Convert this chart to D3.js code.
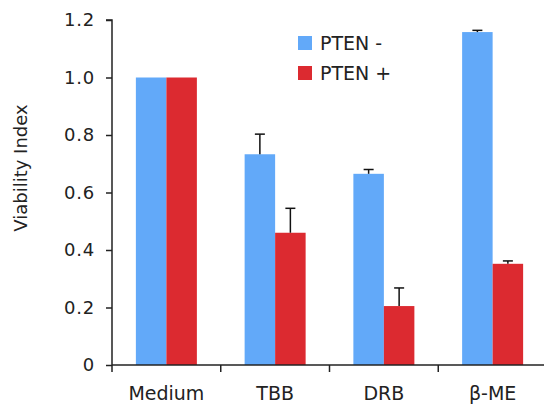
<!DOCTYPE html>
<html>
<head>
<meta charset="utf-8">
<script src="https://cdn.jsdelivr.net/npm/d3@7"></script>
<style>
  body { margin: 0; background: #fff; }
  text { font-family: "DejaVu Sans", Verdana, sans-serif; fill: #222; }
</style>
</head>
<body>
<svg id="chart" width="544" height="406"></svg>
<script>
const categories = ["Medium", "TBB", "DRB", "β-ME"];
const seriesNames = ["PTEN -", "PTEN +"];
const ptenMinus = [1.0, 0.733, 0.665, 1.158];
const ptenMinusErr = [0, 0.07, 0.015, 0.006];
const ptenPlus = [1.0, 0.46, 0.205, 0.352];
const ptenPlusErr = [0, 0.085, 0.063, 0.01];
const yTicks = [0, 0.2, 0.4, 0.6, 0.8, 1.0, 1.2];
const yTickLabels = ["0", "0.2", "0.4", "0.6", "0.8", "1.0", "1.2"];
const colors = ["#62a9f9", "#dc2a30"];

const svg = d3.select("#chart");
const mLeft = 112, mRight = 547, mTop = 20, mBottom = 365;

const x = d3.scaleBand().domain(categories).range([mLeft, mRight]).padding(0);
const y = d3.scaleLinear().domain([0, 1.2]).range([mBottom, mTop]);
const barW = 30.5;
const xs = d3.scaleBand().domain(seriesNames).range([0, barW * 2]);

const series = [
  {name: seriesNames[0], values: ptenMinus, errs: ptenMinusErr, color: colors[0]},
  {name: seriesNames[1], values: ptenPlus, errs: ptenPlusErr, color: colors[1]}
];

const groupOffset = (x.bandwidth() - barW * 2) / 2;

series.forEach(s => {
  const g = svg.append("g");
  g.selectAll("rect").data(categories).join("rect")
    .attr("x", (c) => x(c) + groupOffset + xs(s.name))
    .attr("y", (c, i) => y(s.values[i]))
    .attr("width", xs.bandwidth())
    .attr("height", (c, i) => y(0) - y(s.values[i]))
    .attr("fill", s.color);
  const eg = svg.append("g").attr("stroke", "#111").attr("stroke-width", 1.5);
  categories.forEach((c, i) => {
    if (!s.errs[i]) return;
    const cx = x(c) + groupOffset + xs(s.name) + xs.bandwidth() / 2;
    eg.append("line").attr("x1", cx).attr("x2", cx)
      .attr("y1", y(s.values[i])).attr("y2", y(s.values[i] + s.errs[i]));
    eg.append("line").attr("x1", cx - 5).attr("x2", cx + 5)
      .attr("y1", y(s.values[i] + s.errs[i])).attr("y2", y(s.values[i] + s.errs[i]));
  });
});

// Y axis
const yAxis = d3.axisLeft(y).tickValues(yTicks)
  .tickFormat((d, i) => yTickLabels[i]).tickSize(6).tickPadding(11);
const ya = svg.append("g").attr("transform", `translate(${mLeft},0)`).call(yAxis);
ya.select(".domain").attr("stroke", "#222").attr("stroke-width", 1.5).attr("d", `M-6,${mTop}H0V${mBottom}`);
ya.selectAll(".tick line").attr("stroke", "#222").attr("stroke-width", 1.5);
ya.selectAll(".tick text").style("font-size", "18px").style("letter-spacing", "0.8px").attr("fill", "#222")
  .style("font-family", "DejaVu Sans, Verdana, sans-serif");

// X axis
const xa = svg.append("g").attr("transform", `translate(0,${mBottom})`);
xa.append("line").attr("x1", mLeft).attr("x2", 544).attr("y1", 0).attr("y2", 0)
  .attr("stroke", "#222").attr("stroke-width", 1.5);
xa.selectAll("line.tk").data(categories).join("line").attr("class", "tk")
  .attr("x1", c => x(c)).attr("x2", c => x(c)).attr("y1", 0).attr("y2", 7)
  .attr("stroke", "#222").attr("stroke-width", 1.5);
xa.selectAll("text").data(categories).join("text")
  .attr("x", c => x(c) + x.bandwidth() / 2).attr("y", 35)
  .attr("text-anchor", "middle").style("font-size", "19px").text(c => c);

// Y label
svg.append("text")
  .attr("transform", `translate(27,168) rotate(-90)`)
  .attr("text-anchor", "middle").style("font-size", "18px").text("Viability Index");

// Legend
const lg = svg.append("g").attr("transform", "translate(298,36)");
series.forEach((s, i) => {
  lg.append("rect").attr("x", 0).attr("y", i * 30).attr("width", 14).attr("height", 14).attr("fill", s.color);
  lg.append("text").attr("x", 22).attr("y", i * 30 + 14).style("font-size", "19px").text(s.name);
});
</script>
</body>
</html>
